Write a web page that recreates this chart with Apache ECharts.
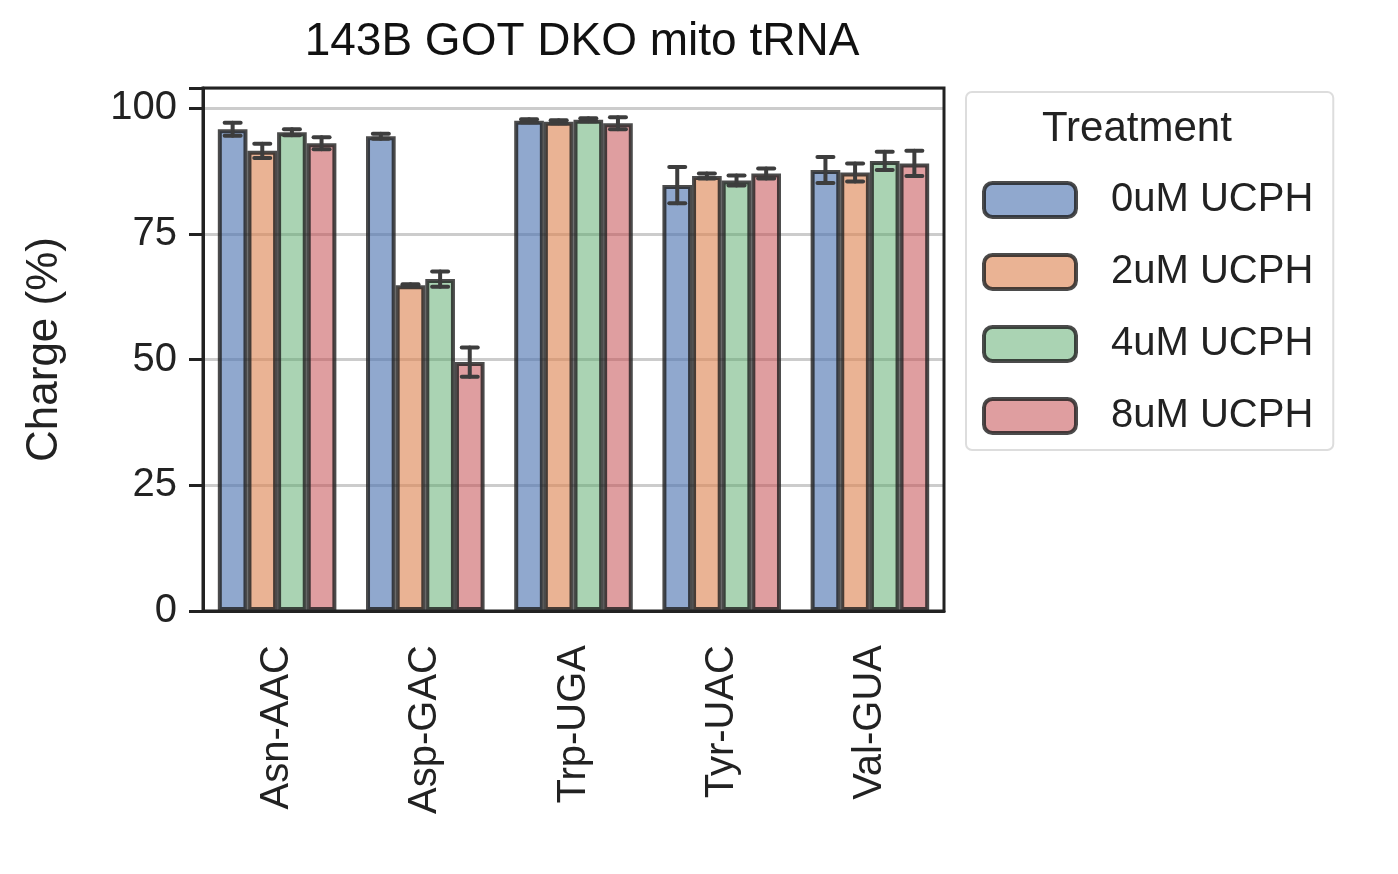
<!DOCTYPE html><html><head><meta charset="utf-8"><script src="https://cdn.jsdelivr.net/npm/echarts@6/dist/echarts.min.js"></script>
<style>body{margin:0}#c{width:1398px;height:874px}</style></head><body><div id="c"></div><script>
const categories=['Asn-AAC','Asp-GAC','Trp-UGA','Tyr-UAC','Val-GUA'];
const seriesNames=['0uM UCPH','2uM UCPH','4uM UCPH','8uM UCPH'];
const values=[[95.8,94.4,97.5,84.7,87.7],[91.5,64.8,97.3,86.5,87.2],[95.2,66.0,97.7,85.6,89.5],[93.0,49.5,97.0,87.0,89.0]];
const errors=[[1.3,0.5,0.3,3.6,2.6],[1.4,0.2,0.3,0.5,1.8],[0.6,1.5,0.3,1.0,1.8],[1.2,2.9,1.2,1.0,2.5]];
const colors=['rgba(76,114,176,0.62)','rgba(221,132,82,0.62)','rgba(85,168,104,0.5)','rgba(196,78,82,0.55)'];
const F='"Helvetica Neue",Arial,"Liberation Sans",sans-serif';
const ch=echarts.init(document.getElementById('c'));
const series=[];
seriesNames.forEach((n,i)=>{
 series.push({name:n,type:'bar',data:values[i],barGap:'0%',barCategoryGap:'20%',
  itemStyle:{color:colors[i],borderColor:'rgba(30,30,30,0.8)',borderWidth:4}});
});
series.push({type:'custom',silent:true,z:10,data:categories.flatMap((c,ci)=>seriesNames.map((s,si)=>[ci,si,values[si][ci],errors[si][ci]])),
 renderItem:(p,api)=>{
  const ci=api.value(0),si=api.value(1),v=api.value(2),e=api.value(3);
  const bw=api.size([1,0])[0];const inner=bw*0.8/4;
  const x=api.coord([ci,0])[0]-bw*0.4+inner*(si+0.5);
  const y1=api.coord([ci,v-e])[1],y2=api.coord([ci,v+e])[1];
  const st={stroke:'#3d3d3d',lineWidth:4,lineCap:'round'};
  return {type:'group',children:[
   {type:'line',shape:{x1:x,y1:y1,x2:x,y2:y2},style:st},
   {type:'line',shape:{x1:x-8,y1:y1,x2:x+8,y2:y1},style:st},
   {type:'line',shape:{x1:x-8,y1:y2,x2:x+8,y2:y2},style:st}]};
 }});
ch.setOption({
 title:{text:'143B GOT DKO mito tRNA',left:577,top:14,textAlign:'center',textStyle:{fontFamily:F,fontSize:46,fontWeight:'normal',color:'#111'}},
 grid:{left:203,right:454,top:88,bottom:263},
 legend:{data:seriesNames.map((n,i)=>({name:n,itemStyle:{color:colors[i],borderColor:'rgba(30,30,30,0.8)',borderWidth:4,borderRadius:0}})),orient:'vertical',left:966,top:92,padding:[88,20,14,16],itemWidth:92,itemHeight:34,itemGap:32,
  borderColor:'#ddd',borderWidth:2,borderRadius:6,backgroundColor:'transparent',textStyle:{fontFamily:F,fontSize:40,color:'#222',padding:[0,0,0,30]}},
 graphic:[{type:'text',left:1042,top:108,z:100,style:{text:'Treatment',font:'42px '+F,fill:'#222'}},
  {type:'rect',shape:{x:203,y:88,width:741,height:523},style:{fill:'none',stroke:'#222',lineWidth:3},z:20}],
 xAxis:{type:'category',data:categories,axisLine:{lineStyle:{color:'#222',width:3}},axisTick:{alignWithLabel:true,length:14,lineStyle:{width:3,color:'#222'}},
  axisLabel:{rotate:90,fontFamily:F,fontSize:40,color:'#222',margin:34}},
 yAxis:{type:'value',min:0,max:104,interval:25,name:'Charge (%)',nameLocation:'middle',nameGap:136,nameTextStyle:{fontFamily:F,fontSize:44,color:'#222'},
  axisLine:{show:true,lineStyle:{color:'#222',width:3}},axisTick:{show:true,length:14,lineStyle:{width:3,color:'#222'}},
  axisLabel:{fontFamily:F,fontSize:40,color:'#222',margin:26,formatter:v=>v>100?'':v},
  splitLine:{lineStyle:{color:'#ccc',width:3}}},
 series
});
</script></body></html>
